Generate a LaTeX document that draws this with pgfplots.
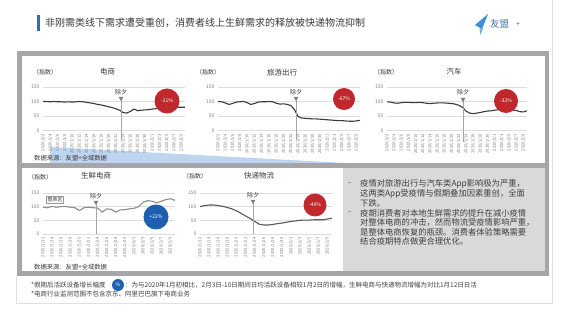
\documentclass[border=0pt]{standalone}
\usepackage{pgfplots}
\pgfplotsset{compat=1.18}
\usepackage{fontspec}
\setmainfont{Noto Sans CJK SC}
\definecolor{framec}{HTML}{A6A6A6}
\definecolor{boxgray}{HTML}{D9D9D9}
\definecolor{redc}{HTML}{C0282D}
\definecolor{bluec}{HTML}{1F5FAF}
\definecolor{linec}{HTML}{3A3A3A}
\definecolor{txt}{HTML}{3A3A3A}
\definecolor{gridc}{HTML}{DDDDDD}
\definecolor{ticklab}{HTML}{808080}
\definecolor{wedge}{HTML}{BDD5EE}
\definecolor{titlebar}{HTML}{2E6DB4}
\definecolor{logoblue}{HTML}{3D8FD6}
\definecolor{logoc}{HTML}{4A6FA0}

\pgfplotsset{
 mini/.style={
   scale only axis, ymin=0, ymax=150, ytick={0,50,100,150},
   axis line style={draw=none}, major tick length=0pt,
   ymajorgrids=true, major grid style={gridc, line width=0.6pt},
   yticklabel style={font=\fontsize{5}{5}\selectfont, text=ticklab},
   xticklabel style={rotate=90, anchor=east, font=\fontsize{4.2}{4.2}\selectfont, text=ticklab},
   /pgf/number format/assume math mode=true,
   clip=false, anchor=south west,
 },
 top/.style={mini, xmin=0, xmax=39, height=43.5pt,
   xtick={0,2,...,38},
   xticklabels={2020/1/2,2020/1/4,2020/1/6,2020/1/8,2020/1/10,2020/1/12,2020/1/14,2020/1/16,2020/1/18,2020/1/20,2020/1/22,2020/1/24,2020/1/26,2020/1/28,2020/1/30,2020/2/1,2020/2/3,2020/2/5,2020/2/7,2020/2/9}},
 bot/.style={mini, xmin=0, xmax=29, height=41pt, width=132pt,
   xtick={0,2,...,28},
   xticklabels={2020/1/12,2020/1/14,2020/1/16,2020/1/18,2020/1/20,2020/1/22,2020/1/24,2020/1/26,2020/1/28,2020/1/30,2020/2/1,2020/2/3,2020/2/5,2020/2/7,2020/2/9}},
}

\begin{document}
\begin{tikzpicture}[x=1pt,y=1pt]
\useasboundingbox (0,0) rectangle (565,332);
\fill[white] (0,0) rectangle (565,332);
\draw[black!12, line width=0.8pt] (552.5,332) -- (552.5,29) -- (16,29) -- (16,56);
% title
\fill[titlebar] (37,301) rectangle (39.5,317);
\node[anchor=west, font=\fontsize{10}{12}\selectfont, text=txt, inner sep=0] at (45,309) {非刚需类线下需求遭受重创，消费者线上生鲜需求的释放被快递物流抑制};
% logo
\fill[logoblue] (475,307) -- (488,318) -- (482,303) -- cycle;
\fill[logoblue!70] (479.5,303.5) -- (483.5,304.5) -- (480.5,297) -- cycle;
\node[anchor=west, font=\fontsize{9.5}{10}\selectfont, text=logoc, inner sep=0] at (490,308) {友盟};
\node[anchor=west, font=\fontsize{7}{8}\selectfont, text=logoc, inner sep=0] at (516,308) {+};
% frame
\fill[framec] (17,56) rectangle (549,281);
\fill[white] (21.5,169) rectangle (544.5,276);
\fill[white] (21.5,60.5) rectangle (343,164);
\fill[boxgray] (343,60.5) rectangle (544.5,164);
\fill[wedge] (50,185) -- (345,169) -- (50,169) -- cycle;

% ---- chart 1
\begin{axis}[top, at={(43pt,201.5pt)}, width=142pt]
\addplot[linec, line width=1.1pt, line join=round] coordinates {
(0,100)(1,100)(2,99)(3,100)(4,99)(5,99)(6,98)(7,99)(8,98)(9,99)(10,100)(11,99)(12,97)(13,95)(14,93)(15,90)(16,88)(17,85)(18,82)(19,79)(20,75)(21,70)(22,62)(23,60)(24,66)(25,74)(26,68)(27,70)(28,71)(29,72)(30,74)(31,75)(32,77)(33,78)(34,78)(35,79)(36,79)(37,80)(38,80)(39,80)};
\end{axis}
% ---- chart 2
\begin{axis}[top, at={(218pt,201.5pt)}, width=142pt]
\addplot[linec, line width=1.1pt, line join=round] coordinates {
(0,100)(1,99)(2,95)(3,90)(4,93)(5,98)(6,99)(7,100)(8,96)(9,90)(10,93)(11,98)(12,99)(13,99)(14,100)(15,99)(16,94)(17,91)(18,92)(19,90)(20,86)(21,72)(22,48)(23,43)(24,42)(25,41)(26,40)(27,40)(28,39)(29,38)(30,37)(31,36)(32,35)(33,34)(34,34)(35,33)(36,32)(37,32)(38,33)(39,35)};
\end{axis}
% ---- chart 3
\begin{axis}[top, at={(387pt,201.5pt)}, width=140pt]
\addplot[linec, line width=1.1pt, line join=round] coordinates {
(0,99)(1,98)(2,95)(3,94)(4,96)(5,97)(6,97)(7,96)(8,96)(9,97)(10,96)(11,94)(12,93)(13,94)(14,95)(15,95)(16,95)(17,94)(18,93)(19,91)(20,87)(21,80)(22,67)(23,60)(24,58)(25,60)(26,62)(27,65)(28,67)(29,68)(30,70)(31,72)(32,74)(33,74)(34,73)(35,71)(36,69)(37,65)(38,64)(39,68)};
\end{axis}
% ---- chart 4
\begin{axis}[bot, at={(43pt,98pt)}]
\addplot[black!45, line width=1.1pt, line join=round] coordinates {
(0,98)(1,96)(2,101)(3,98)(4,100)(5,101)(6,98)(7,96)(8,86)(9,96)(10,98)(11,96)(12,95)(13,80)(14,92)(15,90)(16,80)(17,88)(18,89)(19,92)(20,94)(21,100)(22,116)(23,122)(24,120)(25,114)(26,120)(27,126)(28,129)(29,123)};
\end{axis}
% ---- chart 5
\begin{axis}[bot, at={(200pt,98pt)}]
\addplot[black!65, line width=1.1pt, line join=round] coordinates {
(0,100)(1,104)(2,106)(3,106)(4,104)(5,101)(6,97)(7,92)(8,85)(9,76)(10,66)(11,57)(12,46)(13,36)(14,33)(15,33)(16,35)(17,38)(18,40)(19,43)(20,46)(21,48)(22,50)(23,51)(24,51)(25,52)(26,52)(27,52)(28,55)(29,58)};
\end{axis}

% chart texts
\tikzset{unit/.style={font=\fontsize{6}{6}\selectfont, text=txt, inner sep=0},
         ctitle/.style={font=\fontsize{7.5}{8}\selectfont, text=txt, inner sep=0},
         src/.style={font=\fontsize{6.3}{7}\selectfont, text=txt, inner sep=0, anchor=west},
         circtxt/.style={font=\fontsize{5}{5}\selectfont, text=white}}
\node[unit] at (45,260) {（指数）};
\node[ctitle] at (107.5,260) {电商};
\node[unit] at (208,260) {（指数）};
\node[ctitle] at (282,259.5) {旅游出行};
\node[unit] at (386,259.5) {（指数）};
\node[ctitle] at (454,260) {汽车};
\node[unit] at (40,155) {（指数）};
\node[ctitle] at (96,156) {生鲜电商};
\node[unit] at (195,156) {（指数）};
\node[ctitle] at (259,156) {快递物流};
\node[src] at (34,174) {数据来源：友盟+全域数据};
\node[src] at (34,65) {数据来源：友盟+全域数据};

% 除夕 markers
\foreach \xx/\ly/\ty/\ey in {121/240/233/192, 296/240/233/192, 463/240/232/190, 96/136/129/98, 253/137/130/98}{
  \draw[black!35, line width=0.6pt] (\xx,\ty) -- (\xx,\ey);
  \fill[black!50] (\xx-2.3,\ty+2) -- (\xx+2.3,\ty+2) -- (\xx,\ty-2.2) -- cycle;
  \node[font=\fontsize{6}{6}\selectfont, text=txt, inner sep=0] at (\xx,\ly) {除夕};
}
% 图表区 box
\node[draw=black!40, fill=white, line width=0.4pt, inner sep=1pt, font=\fontsize{5}{5}\selectfont, text=txt] at (55,132.5) {图表区};

% circles
\fill[redc] (167,231) circle (12.5);  \node[circtxt] at (167,231) {-21\%};
\fill[redc] (344,233) circle (11);    \node[circtxt] at (344,233) {-67\%};
\fill[redc] (506,231) circle (12);    \node[circtxt] at (506,231) {-32\%};
\fill[bluec] (156,115) circle (12.5); \node[circtxt] at (156,115) {+22\%};
\fill[redc] (315,127) circle (11.5);  \node[circtxt] at (315,127) {-49\%};

% text box
\tikzset{bx/.style={anchor=west, font=\fontsize{8.3}{9}\selectfont, text=black!75, inner sep=0}}
\node[bx] at (348,148) {-};
\node[bx] at (360,148) {疫情对旅游出行与汽车类App影响极为严重，};
\node[bx] at (360,138.5) {这两类App受疫情与假期叠加因素重创，全面};
\node[bx] at (360,129) {下跌。};
\node[bx] at (348,119) {-};
\node[bx] at (360,119) {疫期消费者对本地生鲜需求的提升在减小疫情};
\node[bx] at (360,109.5) {对整体电商的冲击，然而物流受疫情影响严重，};
\node[bx] at (360,100) {是整体电商恢复的瓶颈。消费者体验策略需要};
\node[bx] at (360,90.5) {结合疫期特点做更合理优化。};

% footnotes
\tikzset{fn/.style={anchor=west, font=\fontsize{6.5}{7}\selectfont, text=black!75, inner sep=0}}
\node[fn] at (31,47) {*假期后活跃设备增长幅度};
\fill[bluec] (118,47) circle (6);
\node[circtxt] at (118,47) {\%};
\node[fn] at (125,47) {：为与2020年1月初相比，2月3日-10日期间日均活跃设备相较1月2日的增幅，生鲜电商与快递物流增幅为对比1月12日日活};
\node[fn] at (31,38) {*电商行业监测范围不包含京东、阿里巴巴旗下电商业务};
\end{tikzpicture}
\end{document}
